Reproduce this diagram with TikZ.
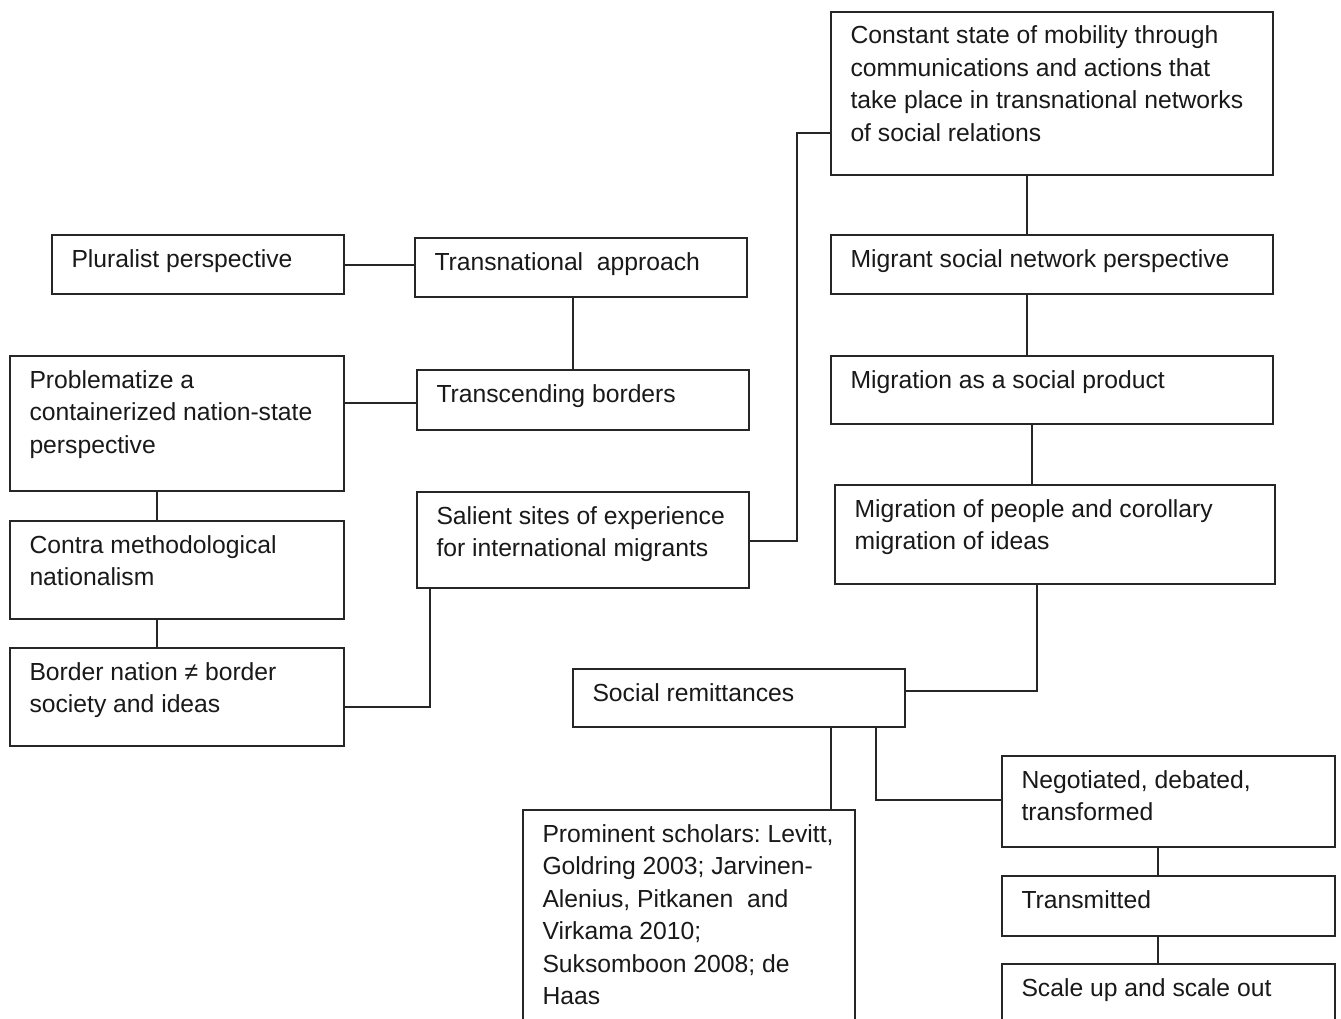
\documentclass[tikz,border=0pt]{standalone}
\usepackage{fontspec}
\setmainfont{Liberation Sans}
\frenchspacing
\tikzset{
  boxst/.style={draw=black!85, line width=1.4pt, rectangle, inner sep=0pt, outer sep=0pt},
  txtst/.style={anchor=base west, inner sep=0pt, outer sep=0pt, text=black!90,
    font=\fontsize{24.7}{32.5}\selectfont},
  link/.style={draw=black!85, line width=1.4pt}
}
\newcommand\mybox[6]{%
  \node[boxst, minimum width={(#4-#2)*1pt}, minimum height={(#5-#3)*1pt}] (#1) at ({(#2+#4)/2},{(#3+#5)/2}) {};
  \node[txtst] (#1-t) at ({#2+19.5},{#3+32}) {\parbox[t]{500pt}{#6}};
}
\begin{document}
\begin{tikzpicture}[x=1pt,y=-1pt]
\useasboundingbox (0,0) rectangle (1341,1019);
\clip (0,0) rectangle (1341,1019);
\fill[white] (0,0) rectangle (1341,1019);
\mybox{plur}{52}{235}{344}{294}{Pluralist perspective}
\mybox{trans}{415}{238}{747}{297}{Transnational~~approach}
\mybox{prob}{10}{356}{344}{491}{Problematize a\\containerized nation-state\\perspective}
\mybox{transc}{417}{370}{749}{430}{Transcending borders}
\mybox{contra}{10}{521}{344}{619}{Contra methodological\\nationalism}
\mybox{sal}{417}{492}{749}{588}{Salient sites of experience\\for international migrants}
\mybox{border}{10}{648}{344}{746}{Border nation ≠ border\\society and ideas}
\mybox{const}{831}{12}{1273}{175}{Constant state of mobility through\\communications and actions that\\take place in transnational networks\\of social relations}
\mybox{migr}{831}{235}{1273}{294}{Migrant social network perspective}
\mybox{prod}{831}{356}{1273}{424}{Migration as a social product}
\mybox{people}{835}{485}{1275}{584}{Migration of people and corollary\\migration of ideas}
\mybox{remit}{573}{669}{905}{727}{Social remittances}
\mybox{neg}{1002}{756}{1335}{847}{Negotiated, debated,\\transformed}
\mybox{transm}{1002}{876}{1335}{936}{Transmitted}
\mybox{scale}{1002}{964}{1335}{1035}{Scale up and scale out}
\mybox{schol}{523}{810}{855}{1035}{Prominent scholars: Levitt,\\Goldring 2003; Jarvinen-\\Alenius, Pitkanen~~and\\Virkama 2010;\\Suksomboon 2008; de\\Haas}
% connectors
\draw[link] ([yshift=-30pt]plur.north east) -- ([yshift=-30pt]plur.north east -| trans.west);
\draw[link] ([xshift=158pt]trans.south west) -- ([xshift=156pt]transc.north west);
\draw[link] ([yshift=-47pt]prob.north east) -- ([yshift=-47pt]prob.north east -| transc.west);
\draw[link] ([xshift=147pt]prob.south west) -- ([xshift=147pt]contra.north west);
\draw[link] ([xshift=147pt]contra.south west) -- ([xshift=147pt]border.north west);
\draw[link] ([yshift=-59pt]border.north east) -| ([xshift=13pt]sal.south west);
\draw[link] ([yshift=-49pt]sal.north east) -- ++(48,0) |- ([yshift=-121pt]const.north west);
\draw[link] ([xshift=196pt]const.south west) -- ([xshift=196pt]migr.north west);
\draw[link] ([xshift=196pt]migr.south west) -- ([xshift=196pt]prod.north west);
\draw[link] ([xshift=201pt]prod.south west) -- ([xshift=197pt]people.north west);
\draw[link] ([xshift=202pt]people.south west) |- ([yshift=-22pt]remit.north east);
\draw[link] ([xshift=258pt]remit.south west) -- ([xshift=308pt]schol.north west);
\draw[link] ([xshift=303pt]remit.south west) |- ([yshift=-44pt]neg.north west);
\draw[link] ([xshift=156pt]neg.south west) -- ([xshift=156pt]transm.north west);
\draw[link] ([xshift=156pt]transm.south west) -- ([xshift=156pt]scale.north west);
\end{tikzpicture}
\end{document}
